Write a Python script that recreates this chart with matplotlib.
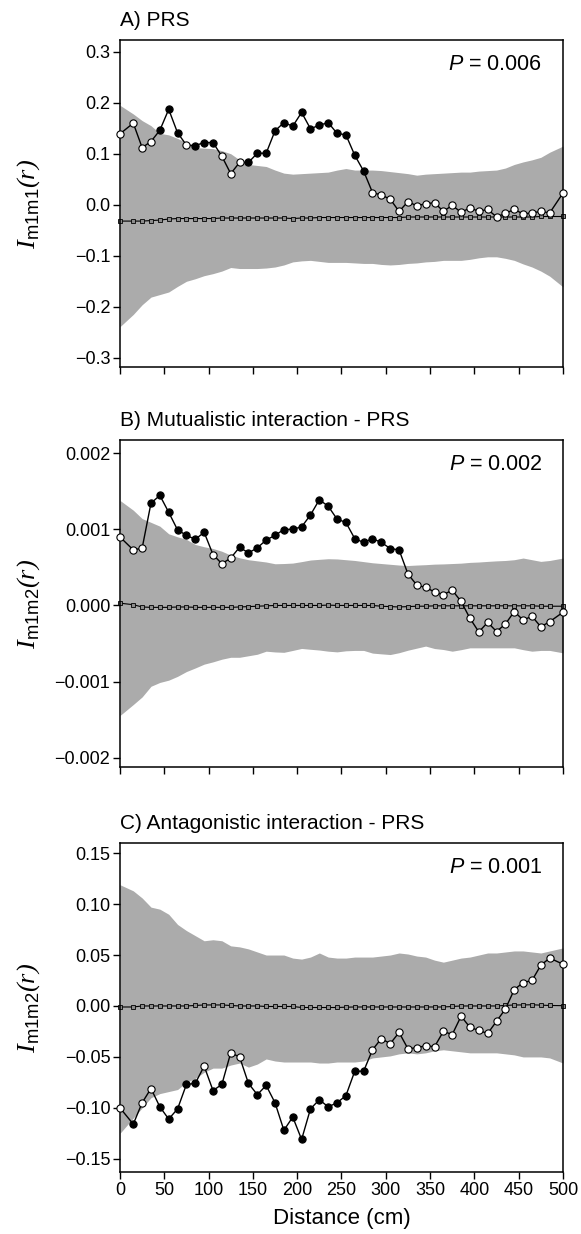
import matplotlib
matplotlib.use('Agg')
import matplotlib.pyplot as plt
from matplotlib.ticker import FuncFormatter, MultipleLocator

plt.rcParams['font.family'] = ['Liberation Sans', 'DejaVu Sans']
plt.rcParams['mathtext.fontset'] = 'custom'
plt.rcParams['mathtext.rm'] = 'Liberation Sans'
plt.rcParams['mathtext.it'] = 'Liberation Sans:italic'
plt.rcParams['mathtext.cal'] = 'Liberation Serif:italic'

# distance classes (cm)
distance = [0, 15, 25, 35, 45, 55, 65, 75, 85, 95,
            105, 115, 125, 135, 145, 155, 165, 175, 185, 195,
            205, 215, 225, 235, 245, 255, 265, 275, 285, 295,
            305, 315, 325, 335, 345, 355, 365, 375, 385, 395,
            405, 415, 425, 435, 445, 455, 465, 475, 485, 500]

# A) PRS
a_obs = [0.139, 0.160, 0.112, 0.124, 0.146, 0.187, 0.141, 0.117, 0.116, 0.122,
         0.122, 0.095, 0.061, 0.083, 0.083, 0.101, 0.101, 0.145, 0.161, 0.154,
         0.181, 0.149, 0.156, 0.161, 0.140, 0.137, 0.097, 0.066, 0.024, 0.019,
         0.011, -0.013, 0.006, -0.002, 0.002, 0.004, -0.013, -0.001, -0.015, -0.006,
         -0.013, -0.009, -0.024, -0.017, -0.009, -0.018, -0.016, -0.013, -0.016, 0.023]
a_sig = [0, 0, 0, 0, 1, 1, 1, 0, 1, 1,
         1, 0, 0, 0, 1, 1, 1, 1, 1, 1,
         1, 1, 1, 1, 1, 1, 1, 1, 0, 0,
         0, 0, 0, 0, 0, 0, 0, 0, 0, 0,
         0, 0, 0, 0, 0, 0, 0, 0, 0, 0]
a_null = [-0.032, -0.032, -0.032, -0.031, -0.030, -0.028, -0.027, -0.027, -0.027, -0.027,
          -0.027, -0.026, -0.026, -0.026, -0.026, -0.026, -0.026, -0.026, -0.026, -0.027,
          -0.026, -0.026, -0.025, -0.025, -0.025, -0.025, -0.025, -0.025, -0.025, -0.025,
          -0.025, -0.025, -0.024, -0.024, -0.024, -0.024, -0.024, -0.024, -0.024, -0.024,
          -0.024, -0.024, -0.024, -0.024, -0.024, -0.024, -0.024, -0.023, -0.023, -0.023]
a_hi = [0.195, 0.178, 0.165, 0.155, 0.140, 0.137, 0.130, 0.122, 0.112, 0.111,
        0.110, 0.106, 0.100, 0.088, 0.079, 0.077, 0.075, 0.068, 0.062, 0.060,
        0.061, 0.062, 0.063, 0.064, 0.068, 0.071, 0.068, 0.068, 0.068, 0.067,
        0.065, 0.063, 0.061, 0.058, 0.060, 0.061, 0.062, 0.063, 0.064, 0.064,
        0.066, 0.067, 0.068, 0.072, 0.079, 0.084, 0.088, 0.093, 0.103, 0.115]
a_lo = [-0.239, -0.215, -0.196, -0.181, -0.176, -0.171, -0.160, -0.150, -0.145, -0.139,
        -0.135, -0.130, -0.123, -0.125, -0.125, -0.125, -0.124, -0.122, -0.118, -0.112,
        -0.110, -0.109, -0.111, -0.113, -0.113, -0.113, -0.114, -0.115, -0.115, -0.117,
        -0.118, -0.117, -0.115, -0.114, -0.112, -0.111, -0.109, -0.109, -0.109, -0.107,
        -0.104, -0.102, -0.102, -0.105, -0.109, -0.116, -0.122, -0.130, -0.140, -0.161]

# B) Mutualistic interaction - PRS (values x 1e-3)
b_obs = [0.898, 0.729, 0.751, 1.342, 1.444, 1.222, 0.991, 0.920, 0.867, 0.960,
         0.667, 0.547, 0.622, 0.764, 0.689, 0.756, 0.858, 0.920, 0.996, 1.000,
         1.031, 1.187, 1.387, 1.302, 1.133, 1.089, 0.876, 0.827, 0.876, 0.827,
         0.747, 0.729, 0.413, 0.267, 0.236, 0.178, 0.142, 0.200, 0.053, -0.169,
         -0.347, -0.222, -0.342, -0.244, -0.080, -0.191, -0.142, -0.280, -0.213, -0.089]
b_sig = [0, 0, 0, 1, 1, 1, 1, 1, 1, 1,
         0, 0, 0, 1, 1, 1, 1, 1, 1, 1,
         1, 1, 1, 1, 1, 1, 1, 1, 1, 1,
         1, 1, 0, 0, 0, 0, 0, 0, 0, 0,
         0, 0, 0, 0, 0, 0, 0, 0, 0, 0]
b_null = [0.030, 0.010, -0.020, -0.025, -0.025, -0.025, -0.020, -0.020, -0.025, -0.025,
          -0.025, -0.025, -0.025, -0.020, -0.015, -0.010, -0.005, 0.000, 0.000, 0.000,
          0.000, 0.000, 0.000, 0.005, 0.000, 0.000, 0.000, 0.000, 0.000, -0.010,
          -0.015, -0.020, -0.015, -0.010, -0.010, -0.005, -0.005, -0.005, -0.005, -0.005,
          -0.005, -0.005, -0.005, -0.005, -0.005, -0.005, -0.005, -0.010, -0.010, -0.010]
b_hi = [1.378, 1.250, 1.140, 1.090, 1.040, 0.940, 0.900, 0.867, 0.800, 0.770,
        0.747, 0.711, 0.660, 0.625, 0.600, 0.585, 0.570, 0.547, 0.550, 0.556,
        0.575, 0.596, 0.605, 0.613, 0.610, 0.600, 0.590, 0.575, 0.560, 0.550,
        0.540, 0.530, 0.524, 0.530, 0.535, 0.542, 0.545, 0.550, 0.555, 0.565,
        0.570, 0.578, 0.585, 0.590, 0.600, 0.622, 0.600, 0.578, 0.590, 0.622]
b_lo = [-1.444, -1.300, -1.200, -1.060, -1.010, -0.980, -0.930, -0.867, -0.820, -0.770,
        -0.740, -0.705, -0.680, -0.680, -0.660, -0.640, -0.600, -0.610, -0.615, -0.590,
        -0.564, -0.575, -0.585, -0.600, -0.609, -0.595, -0.590, -0.590, -0.625, -0.635,
        -0.644, -0.620, -0.587, -0.560, -0.533, -0.565, -0.578, -0.600, -0.580, -0.556,
        -0.556, -0.556, -0.556, -0.556, -0.556, -0.580, -0.600, -0.590, -0.590, -0.622]

# C) Antagonistic interaction - PRS
c_obs = [-0.100, -0.116, -0.095, -0.081, -0.099, -0.111, -0.101, -0.077, -0.076, -0.059,
         -0.083, -0.077, -0.046, -0.050, -0.076, -0.087, -0.078, -0.095, -0.122, -0.109,
         -0.131, -0.101, -0.092, -0.099, -0.095, -0.088, -0.064, -0.064, -0.043, -0.032,
         -0.037, -0.026, -0.042, -0.041, -0.039, -0.040, -0.025, -0.028, -0.010, -0.021,
         -0.024, -0.027, -0.015, -0.003, 0.016, 0.023, 0.025, 0.040, 0.047, 0.041]
c_sig = [0, 1, 0, 0, 1, 1, 1, 1, 1, 0,
         1, 1, 0, 0, 1, 1, 1, 1, 1, 1,
         1, 1, 1, 1, 1, 1, 1, 1, 0, 0,
         0, 0, 0, 0, 0, 0, 0, 0, 0, 0,
         0, 0, 0, 0, 0, 0, 0, 0, 0, 0]
c_null = [-0.0010, -0.0010, 0.0000, 0.0000, 0.0000, 0.0000, 0.0000, 0.0000, 0.0005, 0.0010,
          0.0010, 0.0010, 0.0005, 0.0000, 0.0000, 0.0000, -0.0005, -0.0005, -0.0005, -0.0005,
          -0.0015, -0.0015, -0.0015, -0.0015, -0.0015, -0.0012, -0.0010, -0.0010, -0.0010, -0.0010,
          -0.0010, -0.0010, -0.0010, -0.0010, -0.0010, -0.0010, -0.0010, -0.0005, 0.0000, 0.0000,
          0.0000, 0.0000, 0.0000, 0.0005, 0.0010, 0.0010, 0.0012, 0.0008, 0.0005, 0.0003]
c_hi = [0.119, 0.113, 0.106, 0.097, 0.095, 0.090, 0.080, 0.074, 0.069, 0.064,
        0.065, 0.064, 0.059, 0.058, 0.056, 0.053, 0.050, 0.050, 0.050, 0.047,
        0.046, 0.048, 0.052, 0.048, 0.047, 0.047, 0.048, 0.048, 0.048, 0.049,
        0.050, 0.052, 0.051, 0.049, 0.048, 0.045, 0.043, 0.045, 0.047, 0.048,
        0.050, 0.052, 0.052, 0.053, 0.054, 0.054, 0.053, 0.052, 0.054, 0.057]
c_lo = [-0.125, -0.110, -0.100, -0.090, -0.086, -0.084, -0.082, -0.075, -0.071, -0.065,
        -0.061, -0.061, -0.058, -0.056, -0.060, -0.057, -0.052, -0.054, -0.055, -0.055,
        -0.055, -0.055, -0.056, -0.056, -0.055, -0.055, -0.055, -0.054, -0.051, -0.050,
        -0.049, -0.047, -0.046, -0.047, -0.046, -0.044, -0.043, -0.044, -0.045, -0.046,
        -0.046, -0.046, -0.046, -0.047, -0.048, -0.050, -0.050, -0.050, -0.051, -0.056]


def fmt(decimals):
    def f(v, pos):
        if abs(v) < 1e-12:
            v = 0.0
        return ('%.*f' % (decimals, v)).replace('-', '\u2212')
    return FuncFormatter(f)


def panel(ax, obs, sig, null, lo, hi, scale, title, ylab, ptxt, ylim, step, dec, xlabels):
    obs = [v * scale for v in obs]
    null = [v * scale for v in null]
    lo = [v * scale for v in lo]
    hi = [v * scale for v in hi]

    ax.fill_between(distance, lo, hi, color='#ababab', lw=0, zorder=1)
    ax.plot(distance, null, color='black', lw=0.8, marker='s', ms=3,
            mfc='#8c8c8c', mec='black', mew=0.6, zorder=2, clip_on=False)
    ax.plot(distance, obs, color='black', lw=1.0, zorder=3, clip_on=False)
    xs_f = [x for x, s in zip(distance, sig) if s]
    ys_f = [y for y, s in zip(obs, sig) if s]
    xs_o = [x for x, s in zip(distance, sig) if not s]
    ys_o = [y for y, s in zip(obs, sig) if not s]
    ax.plot(xs_o, ys_o, ls='none', marker='o', ms=5.2, mfc='white', mec='black',
            mew=0.8, zorder=4, clip_on=False)
    ax.plot(xs_f, ys_f, ls='none', marker='o', ms=5.2, mfc='black', mec='black',
            mew=0.8, zorder=4, clip_on=False)

    ax.set_xlim(0, 500)
    ax.set_ylim(*ylim)
    ax.xaxis.set_major_locator(MultipleLocator(50))
    ax.yaxis.set_major_locator(MultipleLocator(step))
    ax.yaxis.set_major_formatter(fmt(dec))
    ax.tick_params(direction='out', length=5, width=1, labelsize=13, pad=2)
    if not xlabels:
        ax.tick_params(axis='x', labelbottom=False)
    for s in ax.spines.values():
        s.set_linewidth(1.1)

    ax.set_title(title, loc='left', fontsize=15, pad=10)
    ax.set_ylabel(ylab, fontsize=19)
    ax.yaxis.set_label_coords(-0.175, 0.5)
    ax.text(0.953, 0.925, ptxt, transform=ax.transAxes, ha='right', va='center',
            fontsize=15.5)


fig = plt.figure(figsize=(5.81, 12.34), dpi=100)
ax1 = fig.add_axes([0.2065, 0.7026, 0.7625, 0.265])
ax2 = fig.add_axes([0.2065, 0.3784, 0.7625, 0.265])
ax3 = fig.add_axes([0.2065, 0.0502, 0.7625, 0.2667])

panel(ax1, a_obs, a_sig, a_null, a_lo, a_hi, 1.0, 'A) PRS',
      r'$\mathcal{I}_{\mathrm{m1m1}}\mathcal{(r)}$', r'$P$ = 0.006',
      (-0.318, 0.323), 0.1, 1, False)
panel(ax2, b_obs, b_sig, b_null, b_lo, b_hi, 1e-3, 'B) Mutualistic interaction - PRS',
      r'$\mathcal{I}_{\mathrm{m1m2}}\mathcal{(r)}$', r'$P$ = 0.002',
      (-0.00212, 0.00217), 0.001, 3, False)
panel(ax3, c_obs, c_sig, c_null, c_lo, c_hi, 1.0, 'C) Antagonistic interaction - PRS',
      r'$\mathcal{I}_{\mathrm{m1m2}}\mathcal{(r)}$', r'$P$ = 0.001',
      (-0.163, 0.160), 0.05, 2, True)
ax3.set_xlabel('Distance (cm)', fontsize=16, labelpad=7)

fig.savefig('out.png', dpi=100)
